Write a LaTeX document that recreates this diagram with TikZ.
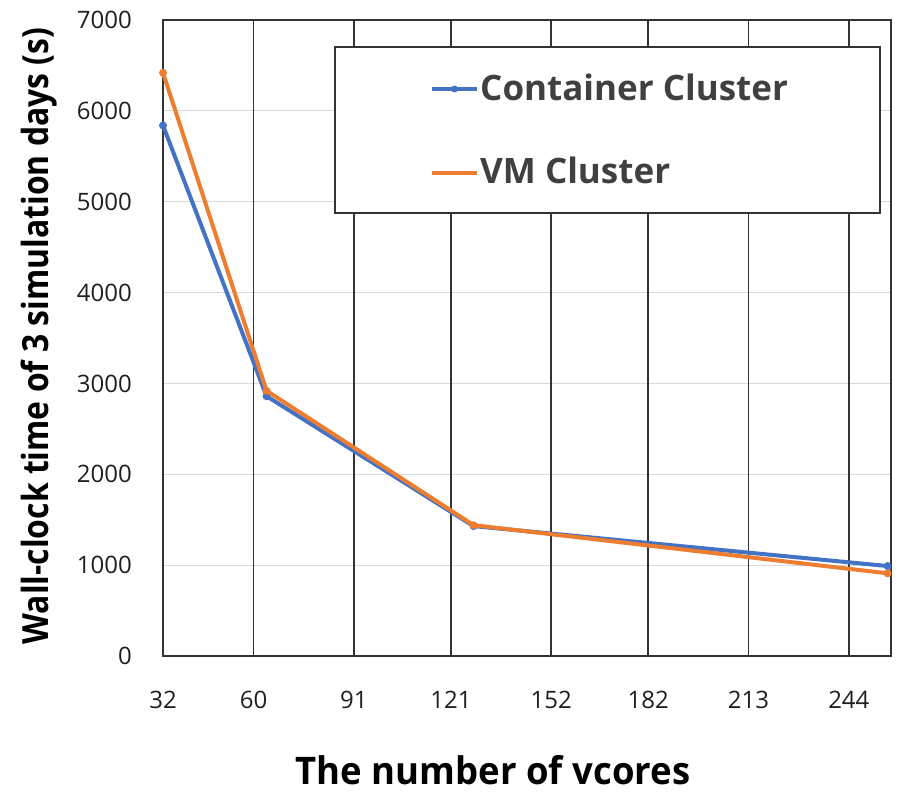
\documentclass[tikz,border=0pt]{standalone}
\usepackage{fontspec}
\usetikzlibrary{calc}
\setmainfont{Open Sans}
\definecolor{gridDark}{HTML}{333333}
\definecolor{gridLight}{HTML}{D9D9D9}
\definecolor{contBlue}{HTML}{4472C4}
\definecolor{vmOrange}{HTML}{ED7D31}
\definecolor{labelGray}{HTML}{404040}
\definecolor{tickInk}{HTML}{1F1F1F}
\tikzset{
  ticklab/.style={font=\fontsize{24}{24}\selectfont, text=tickInk, inner sep=0pt},
  axistitle/.style={font=\fontsize{38}{38}\selectfont\bfseries, text=black, inner sep=0pt},
  ytitlefont/.style={font=\fontsize{36}{36}\selectfont\bfseries, text=black, inner sep=0pt},
  legtext/.style={font=\fontsize{35}{35}\selectfont\bfseries, text=labelGray, inner sep=0pt, anchor=base west},
  series/.style={line width=4pt, line join=round, line cap=round},
  dot/.style={circle, inner sep=0pt, minimum size=8pt},
  darkline/.style={gridDark, line width=1.8pt},
}
\begin{document}
\begin{tikzpicture}[x=1pt, y=-1pt]
  \useasboundingbox[fill=white] (0,0) rectangle (901,792);

  % data scope: x in vcores, y in seconds (origin at vcores 0)
  \begin{scope}[shift={(59.48,656)}, x={(3.235pt,0pt)}, y={(0pt,0.090857pt)}]
    % light horizontal gridlines
    \foreach \v in {1000,2000,...,6000}
      \draw[gridLight, line width=1pt] (32,\v) -- (257,\v);
    % dark vertical gridlines
    \foreach \c in {60,91,121,152,182,213,244}
      \draw[darkline] (\c,0) -- (\c,7000);
    % frame
    \draw[darkline] (32,0) rectangle (257,7000);

    % y tick labels
    \foreach \v in {0,1000,...,7000}
      \node[ticklab, anchor=east] (yt\v) at ([xshift=-31pt]32,\v) {\v};
    % x tick labels
    \foreach \c in {32,60,91,121,152,182,213,244}
      \node[ticklab, anchor=base] (xt\c) at ([yshift=-52pt]\c,0) {\c};

    % data points
    \coordinate (c1) at (32,5840);
    \coordinate (c2) at (64,2860);
    \coordinate (c3) at (128,1430);
    \coordinate (c4) at (256,990);
    \coordinate (m1) at (32,6420);
    \coordinate (m2) at (64,2920);
    \coordinate (m3) at (128,1440);
    \coordinate (m4) at (256,910);
  \end{scope}

  % container series
  \draw[series, contBlue] (c1) -- (c2) -- (c3) -- (c4);
  \foreach \p in {c1,c2,c3,c4} \node[dot, fill=contBlue] at (\p) {};
  % VM series
  \draw[series, vmOrange] (m1) -- (m2) -- (m3) -- (m4);
  \foreach \p in {m1,m2,m3,m4} \node[dot, fill=vmOrange] at (\p) {};

  % legend
  \draw[darkline, fill=white] (335,47) rectangle (880,213);
  \coordinate (lb1) at (432,89);
  \coordinate (lb2) at (477,89);
  \coordinate (lo1) at (432,173);
  \coordinate (lo2) at (477,173);
  \draw[contBlue, line width=4pt] (lb1) -- (lb2);
  \node[dot, fill=contBlue, minimum size=7pt] at ($ (lb1)!0.5!(lb2) $) {};
  \draw[vmOrange, line width=4pt] (lo1) -- (lo2);
  \node[legtext] (lcont) at (480,100) {Container Cluster};
  \node[legtext] (lvm) at (480,183) {VM Cluster};

  % axis titles
  \node[axistitle, anchor=base] (xtitle) at (493,784) {\scalebox{0.96}[1]{The number of vcores}};
  \node[ytitlefont, anchor=base, rotate=90] (ytitle) at (48,336) {\scalebox{0.885}[1]{Wall-clock time of 3 simulation days (s)}};
\end{tikzpicture}
\end{document}
